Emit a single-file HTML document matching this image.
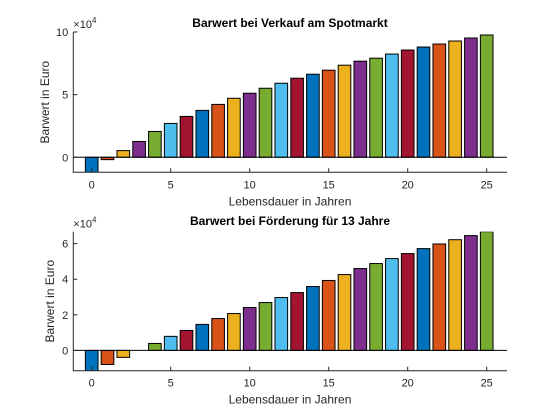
<!DOCTYPE html>
<html><head><meta charset="utf-8"><style>
html,body{margin:0;padding:0;background:#fff;}
svg{display:block;font-family:"Liberation Sans",sans-serif;}
</style></head><body>
<svg id="fig" width="560" height="420" viewBox="0 0 560 420" xmlns="http://www.w3.org/2000/svg"></svg>
<script>
const years = [0,1,2,3,4,5,6,7,8,9,10,11,12,13,14,15,16,17,18,19,20,21,22,23,24,25];
const spotValues = [-1.5,-0.19,0.53,1.26,2.06,2.70,3.26,3.74,4.22,4.71,5.11,5.51,5.91,6.31,6.63,6.95,7.35,7.67,7.91,8.24,8.56,8.80,9.04,9.28,9.52,9.76];
const foerderValues = [-1.5,-0.79,-0.39,0,0.39,0.79,1.12,1.46,1.79,2.07,2.41,2.69,2.97,3.25,3.59,3.93,4.26,4.60,4.88,5.16,5.44,5.72,5.98,6.22,6.45,6.67];
const xTicks = [0,5,10,15,20,25];
const spotYTicks = [0,5,10];
const foerderYTicks = [0,2,4,6];
const colors = ["#0072BD","#D95319","#EDB120","#7E2F8E","#77AC30","#4DBEEE","#A2142F"];

const NS="http://www.w3.org/2000/svg";
const svg=document.getElementById('fig');
function el(tag,attrs,parent){const e=document.createElementNS(NS,tag);for(const k in attrs)e.setAttribute(k,attrs[k]);(parent||svg).appendChild(e);return e;}

function panel(cfg){
  const g=el('g',{});
  
  
  const L=73.3,R=507,T=cfg.top,B=cfg.bottom;
  const x0=91.7,x25=486.7;
  const xs=v=>x0+(x25-x0)*v/25;
  const ys=v=>B-(v-cfg.ymin)/(cfg.ymax-cfg.ymin)*(B-T);
  const clip=el('clipPath',{id:'c'+cfg.name},g);
  el('rect',{x:L,y:T,width:R-L,height:B-T},clip);
  const bars=el('g',{'clip-path':'url(#c'+cfg.name+')'},g);
  const bw=(xs(0.8)-xs(0));
  cfg.values.forEach((v,i)=>{
    const y0=ys(0),y1=ys(v);
    if(v===0)return;
    const r=el('rect',{x:xs(years[i])-bw/2,y:Math.min(y0,y1),width:bw,height:Math.abs(y1-y0),fill:colors[i%7],stroke:'#000','stroke-width':1},bars);
    
    
  });
  const zl=el('line',{x1:L,x2:R,y1:ys(0),y2:ys(0),stroke:'#000','stroke-width':1},g);
  
  
  const ax=el('path',{d:`M${L},${T}V${B}H${R}`,fill:'none',stroke:'#262626','stroke-width':1},g);
  
  
  xTicks.forEach(t=>{
    el('line',{x1:xs(t),x2:xs(t),y1:B,y2:B-4,stroke:'#262626'},g);
    const tx=el('text',{x:xs(t),y:B+16,'text-anchor':'middle','font-size':11,fill:'#262626'},g);
    tx.textContent=t;
    
    
  });
  cfg.yticks.forEach(t=>{
    el('line',{x1:L,x2:L+4,y1:ys(t),y2:ys(t),stroke:'#262626'},g);
    const tx=el('text',{x:L-5,y:ys(t)+4,'text-anchor':'end','font-size':11,fill:'#262626'},g);
    tx.textContent=t;
    
    
  });
  const ex=el('text',{x:L,y:T-4,'font-size':11,fill:'#262626'},g);
  ex.innerHTML='×10<tspan dy="-5" font-size="8">4</tspan>';
  
  
  const ti=el('text',{x:290,y:cfg.titleY,'text-anchor':'middle','font-size':12,'font-weight':'bold',fill:'#000'},g);
  ti.textContent=cfg.title;
  
  
  const xl=el('text',{x:290,y:B+33,'text-anchor':'middle','font-size':12,fill:'#262626'},g);
  xl.textContent='Lebensdauer in Jahren';
  
  
  const ym=(T+B)/2;
  const yl=el('text',{x:0,y:0,transform:`translate(${cfg.ylabelX},${ym}) rotate(-90)`,'text-anchor':'middle','font-size':12,fill:'#262626'},g);
  yl.textContent='Barwert in Euro';
  
  
}
panel({name:'spot-chart',top:32,bottom:172.3,ymin:-1.2,ymax:10,values:spotValues,yticks:spotYTicks,title:'Barwert bei Verkauf am Spotmarkt',titleY:27,ylabelX:49});
panel({name:'foerder-chart',top:231.7,bottom:370.7,ymin:-1.14,ymax:6.67,values:foerderValues,yticks:foerderYTicks,title:'Barwert bei Förderung für 13 Jahre',titleY:225,ylabelX:54});
</script>
</body></html>
